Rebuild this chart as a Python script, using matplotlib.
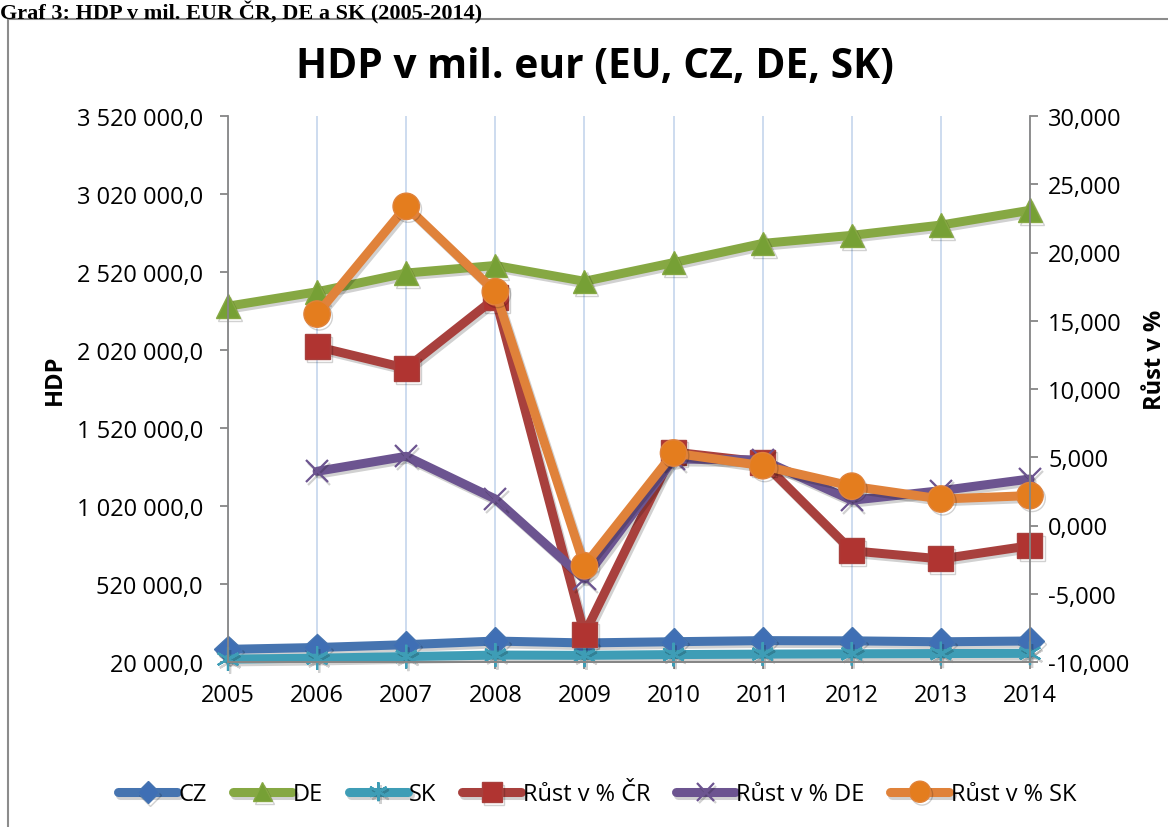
import matplotlib.pyplot as plt
import matplotlib.patheffects as pe
from matplotlib.patches import Rectangle
from matplotlib.ticker import FuncFormatter

# data (mil. EUR, growth in %)
years = [2005, 2006, 2007, 2008, 2009, 2010, 2011, 2012, 2013, 2014]
growth_years = years[1:]

hdp_cz = [101100, 113000, 131000, 154300, 142200, 150000, 157000, 155600, 149500, 154700]
hdp_de = [2300860, 2393250, 2513230, 2561740, 2460280, 2580060, 2703120, 2754860, 2820820, 2915650]
hdp_sk = [38500, 44500, 54800, 64400, 62800, 67600, 70600, 72700, 74200, 75600]

rust_cr = [13.10, 11.52, 16.67, -7.95, 5.38, 4.65, -1.85, -2.45, -1.48]
rust_de = [3.97, 5.07, 1.94, -3.92, 4.87, 4.80, 1.85, 2.55, 3.41]
rust_sk = [15.49, 23.38, 17.13, -2.95, 5.31, 4.38, 2.88, 1.94, 2.19]

plt.rcParams['font.family'] = ['Open Sans', 'DejaVu Sans']

fig = plt.figure(figsize=(11.68, 8.28), dpi=100)
W, H = 1168, 828
ax = fig.add_axes([228 / W, 1 - 663 / H, (1030 - 228) / W, (663 - 117) / H])
ax2 = ax.twinx()

shadow = [pe.SimpleLineShadow(offset=(1.5, -2), alpha=0.18), pe.Normal()]


def draw(axis, x, y, color, marker, ms, label, mfc=None, mew=1.0):
    line, = axis.plot(x, y, color=color, lw=6.5, marker=marker, ms=ms,
                      mfc=mfc or color, mec=color, mew=mew, label=label,
                      solid_capstyle='round', solid_joinstyle='round',
                      clip_on=False, path_effects=shadow)
    return line


h_cz = draw(ax, years, hdp_cz, '#4674B0', 'D', 14, 'CZ', mfc='#3F6FB5')
h_de = draw(ax, years, hdp_de, '#86A843', '^', 17, 'DE', mfc='#76A035')
h_sk = draw(ax, years, hdp_sk, '#3E9DB6', (6, 2, 0), 17, 'SK', mew=1.6)
h_cr = draw(ax2, growth_years, rust_cr, '#A8403D', 's', 18, 'Růst v % ČR', mfc='#B03431')
h_rde = draw(ax2, growth_years, rust_de, '#6C5490', 'x', 16, 'Růst v % DE', mew=1.6)
h_rsk = draw(ax2, growth_years, rust_sk, '#E0823A', 'o', 19, 'Růst v % SK', mfc='#E47D1E')

grey = '#868686'
ax.set_xlim(2005, 2014)
ax.set_xticks(years)
ax.set_ylim(20000, 3520000)
ax.set_yticks(range(20000, 3520001, 500000))
ax2.set_ylim(-10, 30)
ax2.set_yticks(range(-10, 31, 5))

ax.yaxis.set_major_formatter(FuncFormatter(
    lambda v, p: f"{v:,.1f}".replace(",", " ").replace(".", ",")))
ax2.yaxis.set_major_formatter(FuncFormatter(
    lambda v, p: f"{v:.3f}".replace(".", ",")))

ax.xaxis.grid(True, color='#C5D5EC', lw=1.2)
ax.set_axisbelow(True)

for a in (ax, ax2):
    a.spines['top'].set_visible(False)
    for s in ('left', 'right', 'bottom'):
        a.spines[s].set_color(grey)
        a.spines[s].set_linewidth(1.3)
ax.spines['right'].set_visible(False)
ax2.spines['left'].set_visible(False)

fs = 17
ax.tick_params(axis='x', colors=grey, length=5, width=1.3, pad=10, labelsize=fs, labelcolor='black')
ax.tick_params(axis='y', colors=grey, length=6, width=1.3, pad=12, labelsize=fs, labelcolor='black')
ax2.tick_params(axis='y', colors=grey, length=6, width=1.3, pad=7, labelsize=fs, labelcolor='black')

fig.text(595 / W, 1 - 68 / H, 'HDP v mil. eur (EU, CZ, DE, SK)', ha='center', va='center',
         fontsize=29.3, fontweight='bold')
fig.text(55 / W, 1 - 380 / H, 'HDP', rotation=90, ha='center', va='center',
         fontsize=fs, fontweight='bold')
fig.text(1155 / W, 1 - 360 / H, 'Růst v %', rotation=90, ha='center', va='center',
         fontsize=fs, fontweight='bold')

fig.text(0, 1 - 19 / H, 'Graf 3: HDP v mil. EUR ČR, DE a SK (2005-2014)', ha='left', va='baseline',
         fontsize=16, fontweight='bold', family='Liberation Serif')

fig.patches.append(Rectangle((8 / W, -0.05), 1.1, 1 - 20 / H + 0.05, transform=fig.transFigure,
                             fill=False, edgecolor='#8C8C8C', lw=1.5))

fig.legend(handles=[h_cz, h_de, h_sk, h_cr, h_rde, h_rsk], loc='center', ncol=6,
           bbox_to_anchor=(597 / W, 1 - 795 / H), frameon=False, fontsize=fs,
           handlelength=2.5, handletextpad=0.05, columnspacing=1.1, markerscale=0.8)

fig.savefig('out.png', dpi=100)
